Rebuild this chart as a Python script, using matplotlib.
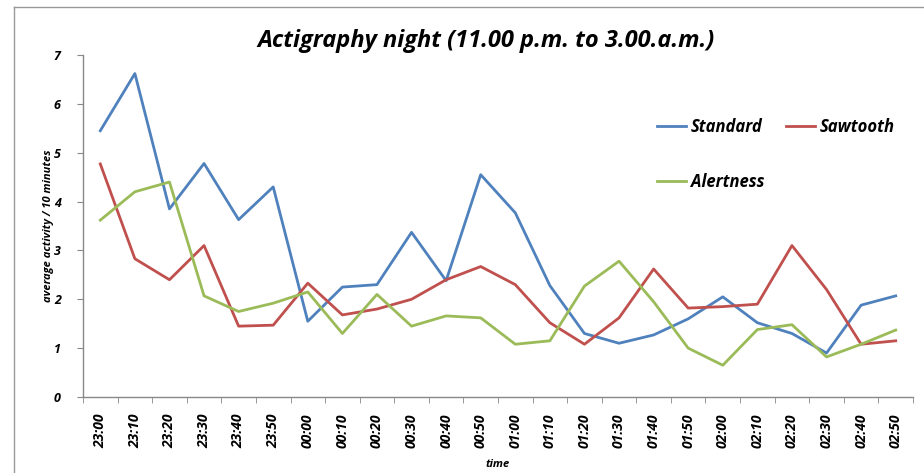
import matplotlib
matplotlib.use("Agg")
import matplotlib.pyplot as plt
from matplotlib.lines import Line2D

plt.rcParams['font.family'] = ['Open Sans', 'Liberation Sans', 'DejaVu Sans']

# time slots, 10 minutes apart
times = ["23:00", "23:10", "23:20", "23:30", "23:40", "23:50",
         "00:00", "00:10", "00:20", "00:30", "00:40", "00:50",
         "01:00", "01:10", "01:20", "01:30", "01:40", "01:50",
         "02:00", "02:10", "02:20", "02:30", "02:40", "02:50"]

standard = [5.45, 6.62, 3.85, 4.78, 3.63, 4.30, 1.55, 2.25, 2.30, 3.37, 2.38, 4.55,
            3.77, 2.28, 1.30, 1.10, 1.27, 1.60, 2.05, 1.52, 1.30, 0.90, 1.88, 2.07]
sawtooth = [4.77, 2.83, 2.40, 3.10, 1.45, 1.47, 2.33, 1.68, 1.80, 2.00, 2.40, 2.67,
            2.30, 1.52, 1.08, 1.62, 2.62, 1.82, 1.85, 1.90, 3.10, 2.20, 1.08, 1.15]
alertness = [3.62, 4.20, 4.40, 2.07, 1.75, 1.92, 2.15, 1.30, 2.10, 1.45, 1.66, 1.62,
             1.08, 1.15, 2.27, 2.78, 1.95, 1.00, 0.65, 1.38, 1.48, 0.82, 1.08, 1.37]

fig = plt.figure(figsize=(9.24, 4.73), dpi=100)
ax = fig.add_axes([83/924, 76/473, 830/924, 342/473])

x = range(len(times))
l1, = ax.plot(x, standard, color="#4F81BD", lw=2.0, label="Standard")
l2, = ax.plot(x, sawtooth, color="#C0504D", lw=2.0, label="Sawtooth")
l3, = ax.plot(x, alertness, color="#9BBB59", lw=2.0, label="Alertness")

ax.set_xlim(-0.5, len(times) - 0.5)
ax.set_ylim(0, 7)

bi = dict(fontweight="bold", style="italic")

# category labels in the middle, tick marks on the boundaries
ax.set_xticks(list(x))
ax.set_xticklabels(times, rotation=90, fontsize=10, **bi)
ax.set_xticks([i - 0.5 for i in range(len(times) + 1)], minor=True)
ax.tick_params(axis="x", which="major", length=0, pad=12)
ax.tick_params(axis="x", which="minor", length=4, color="#888888", direction="out")
ax.set_yticks(range(8))
ax.set_yticklabels([str(v) for v in range(8)], fontsize=9, **bi)
ax.tick_params(axis="y", length=4, color="#888888", pad=12)

for s in ["top", "right"]:
    ax.spines[s].set_visible(False)
for s in ["left", "bottom"]:
    ax.spines[s].set_color("#888888")
    ax.spines[s].set_linewidth(1.0)

ax.set_xlabel("time", fontsize=8, labelpad=8, **bi)
ax.set_ylabel("average activity / 10 minutes", fontsize=8, labelpad=0, **bi)
ax.set_title("Actigraphy night (11.00 p.m. to 3.00.a.m.)", fontsize=17,
             pad=6, x=0.485, **bi)

# column-major fill: Standard / Alertness in col 1, Sawtooth in col 2
ax.legend([l1, l3, l2], ["Standard", "Alertness", "Sawtooth"],
          loc="upper left", bbox_to_anchor=(0.673, 0.86), ncol=2, frameon=False,
          prop={"size": 12, "weight": "bold", "style": "italic"},
          handlelength=1.75, handletextpad=0.3, columnspacing=1.3, labelspacing=2.2)

# chart-area border (only the left and top edges are in view)
fig.add_artist(Line2D([13.5/924, 13.5/924], [0, 1 - 7/473], color="#999999", lw=1.0))
fig.add_artist(Line2D([13.5/924, 1], [1 - 7/473, 1 - 7/473], color="#999999", lw=1.0))

fig.savefig("out.png", dpi=100)
